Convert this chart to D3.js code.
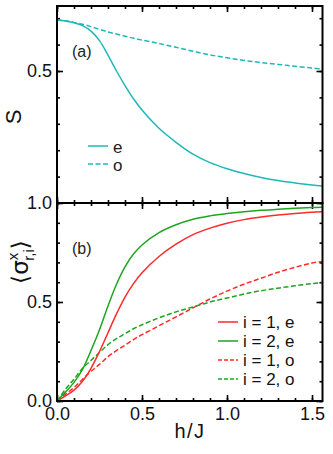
<!DOCTYPE html>
<html>
<head>
<meta charset="utf-8">
<script src="https://cdn.jsdelivr.net/npm/d3@7/dist/d3.min.js"></script>
<style>
  body{margin:0;background:#fff;}
  svg{display:block;}
</style>
</head>
<body>
<svg id="chart" width="333" height="454"></svg>
<script>
"use strict";
//----------------------------------------
//Data
var hValues = [0, 0.05, 0.1, 0.15, 0.2, 0.25, 0.3, 0.35, 0.4, 0.45, 0.5, 0.6, 0.7, 0.8, 0.9, 1.0, 1.1, 1.2, 1.3, 1.4, 1.5, 1.56];

//panel (a): entropy S
var sEven = [0.693, 0.689, 0.683, 0.672, 0.651, 0.615, 0.56, 0.50, 0.445, 0.395, 0.352, 0.283, 0.23, 0.185, 0.153, 0.13, 0.112, 0.097, 0.085, 0.076, 0.068, 0.064];
var sOdd  = [0.693, 0.69, 0.684, 0.677, 0.668, 0.658, 0.648, 0.64, 0.632, 0.624, 0.617, 0.604, 0.59, 0.575, 0.561, 0.55, 0.54, 0.532, 0.525, 0.518, 0.511, 0.508];

//panel (b): <sigma^x_{r,i}>
var sigma1Even = [0, 0.026, 0.055, 0.1, 0.165, 0.25, 0.345, 0.44, 0.525, 0.593, 0.648, 0.73, 0.792, 0.84, 0.873, 0.898, 0.916, 0.929, 0.939, 0.947, 0.953, 0.956];
var sigma2Even = [0, 0.045, 0.094, 0.16, 0.255, 0.36, 0.48, 0.59, 0.678, 0.742, 0.788, 0.85, 0.89, 0.918, 0.935, 0.947, 0.956, 0.963, 0.968, 0.973, 0.977, 0.979];
var sigma1Odd  = [0, 0.035, 0.068, 0.11, 0.15, 0.185, 0.224, 0.255, 0.282, 0.31, 0.335, 0.38, 0.425, 0.47, 0.515, 0.555, 0.59, 0.62, 0.65, 0.675, 0.697, 0.705];
var sigma2Odd  = [0, 0.06, 0.11, 0.165, 0.205, 0.245, 0.285, 0.315, 0.34, 0.365, 0.385, 0.42, 0.45, 0.475, 0.5, 0.52, 0.54, 0.557, 0.57, 0.582, 0.593, 0.598];

//Ticks
var xMajor = [0, 0.5, 1.0, 1.5];
var xMinor = d3.range(0, 1.56, 0.1);
var yaMajor = [0.5];
var yaMinor = d3.range(0.1, 0.75, 0.1);
var ybMajor = [0, 0.5, 1.0];
var ybMinor = d3.range(0, 1.01, 0.1);

var legendA = ["e", "o"];
var legendB = ["i = 1, e", "i = 2, e", "i = 1, o", "i = 2, o"];

//----------------------------------------
var colours = {teal: "#1fb8b8", red: "#ff2a2a", green: "#1ea51e"};
var font = "'Liberation Sans', Arial, sans-serif";

var svg = d3.select("#chart");

var left = 57, right = 322.5, topA = 6, mid = 203, bottom = 401;

var x = d3.scaleLinear().domain([0, 1.5]).range([left, left + 255]);
var yA = d3.scaleLinear().domain([0, 0.75]).range([mid, mid - 264 * 0.75]);
var yB = d3.scaleLinear().domain([0, 1]).range([bottom, mid]);

//Clip the curves to the frame
svg.append("clipPath").attr("id", "clipA")
    .append("rect").attr("x", left).attr("y", topA).attr("width", right - left).attr("height", mid - topA);
svg.append("clipPath").attr("id", "clipB")
    .append("rect").attr("x", left).attr("y", mid).attr("width", right - left).attr("height", bottom - mid);

/**
   draws inward ticks on all four sides of a panel
 */
var drawTicks = function(y, yTop, yBottom, yMaj, yMin, yLabels, xLabels){
    var fmt = d3.format(".1f");
    var put = function(axis, tx, ty){
        var g = svg.append("g")
            .attr("transform", "translate(" + tx + "," + ty + ")")
            .call(axis);
        g.select(".domain").remove();
        g.selectAll("line").attr("stroke", "#000").attr("stroke-width", 1.6);
        g.selectAll("text").attr("font-size", 18).attr("font-family", font).attr("fill", "#111");
        return g;
    };
    //bottom
    put(d3.axisBottom(x).tickValues(xMinor).tickSize(-3).tickFormat(""), 0, yBottom);
    put(d3.axisBottom(x).tickValues(xMajor).tickSize(-6).tickPadding(6)
        .tickFormat(xLabels ? fmt : ""), 0, yBottom);
    //top
    put(d3.axisTop(x).tickValues(xMinor).tickSize(-3).tickFormat(""), 0, yTop);
    put(d3.axisTop(x).tickValues(xMajor).tickSize(-6).tickFormat(""), 0, yTop);
    //left
    put(d3.axisLeft(y).tickValues(yMin).tickSize(-3).tickFormat(""), left, 0);
    put(d3.axisLeft(y).tickValues(yMaj).tickSize(-6).tickPadding(5)
        .tickFormat(function(d){ return yLabels.indexOf(d) >= 0 ? fmt(d) : ""; }), left, 0);
    //right
    put(d3.axisRight(y).tickValues(yMin).tickSize(-3).tickFormat(""), right, 0);
    put(d3.axisRight(y).tickValues(yMaj).tickSize(-6).tickFormat(""), right, 0);
};

drawTicks(yA, topA, mid, yaMajor, yaMinor, [0.5], false);
drawTicks(yB, mid, bottom, ybMajor, ybMinor, [0, 0.5, 1.0], true);

//Curves
var drawCurve = function(values, y, clip, colour, dashed){
    var line = d3.line()
        .x(function(d, i){ return x(hValues[i]); })
        .y(function(d){ return y(d); })
        .curve(d3.curveCatmullRom.alpha(0.5));
    svg.append("path")
        .datum(values)
        .attr("clip-path", "url(#" + clip + ")")
        .attr("d", line)
        .attr("fill", "none")
        .attr("stroke", colour)
        .attr("stroke-width", 1.5)
        .attr("stroke-dasharray", dashed ? "5,2.5" : null);
};

drawCurve(sOdd, yA, "clipA", colours.teal, true);
drawCurve(sEven, yA, "clipA", colours.teal, false);
drawCurve(sigma1Odd, yB, "clipB", colours.red, true);
drawCurve(sigma2Odd, yB, "clipB", colours.green, true);
drawCurve(sigma1Even, yB, "clipB", colours.red, false);
drawCurve(sigma2Even, yB, "clipB", colours.green, false);

//Frames
[[topA, mid], [mid, bottom]].forEach(function(p){
    svg.append("rect")
        .attr("x", left).attr("y", p[0])
        .attr("width", right - left).attr("height", p[1] - p[0])
        .attr("fill", "none").attr("stroke", "#000").attr("stroke-width", 2);
});

//Legends
var legA = svg.append("g").selectAll("g").data(legendA).enter().append("g")
    .attr("transform", function(d, i){ return "translate(88," + (146 + i * 18) + ")"; });
legA.append("line").attr("x1", 0).attr("x2", 20)
    .attr("stroke", colours.teal).attr("stroke-width", 1.5)
    .attr("stroke-dasharray", function(d, i){ return i ? "5,2.5" : null; });
legA.append("text").attr("x", 25).attr("y", 7)
    .attr("font-family", font).attr("font-size", 17).attr("fill", "#222")
    .text(function(d){ return d; });

var legColours = [colours.red, colours.green, colours.red, colours.green];
var legB = svg.append("g").selectAll("g").data(legendB).enter().append("g")
    .attr("transform", function(d, i){ return "translate(218," + (322 + i * 19) + ")"; });
legB.append("line").attr("x1", 0).attr("x2", 20)
    .attr("stroke", function(d, i){ return legColours[i]; }).attr("stroke-width", 1.5)
    .attr("stroke-dasharray", function(d, i){ return i > 1 ? "4,2" : null; });
legB.append("text").attr("x", 25).attr("y", 5.5)
    .attr("font-family", font).attr("font-size", 17).attr("fill", "#111")
    .text(function(d){ return d; });

//Panel labels
svg.append("text").attr("x", 72).attr("y", 56.5)
    .attr("font-family", font).attr("font-size", 16).attr("fill", "#222").text("(a)");
svg.append("text").attr("x", 72).attr("y", 253.5)
    .attr("font-family", font).attr("font-size", 16).attr("fill", "#222").text("(b)");

//Axis titles
svg.append("text")
    .attr("transform", "translate(21,117) rotate(-90)")
    .attr("text-anchor", "middle")
    .attr("font-family", font).attr("font-size", 22).attr("fill", "#111")
    .text("S");

svg.append("text")
    .attr("x", 190).attr("y", 438)
    .attr("text-anchor", "middle")
    .attr("font-family", font).attr("font-size", 20).attr("fill", "#111")
    .attr("letter-spacing", 1.5)
    .text("h/J");

var yLab = svg.append("text")
    .attr("transform", "translate(28,262) rotate(-90)")
    .attr("text-anchor", "middle")
    .attr("font-family", font).attr("font-size", 23).attr("fill", "#111");
yLab.append("tspan").attr("font-family", "'DejaVu Sans', sans-serif").attr("font-weight", 200).text("\u27E8");
yLab.append("tspan").attr("font-family", "'DejaVu Sans', sans-serif").text("\u03C3");
yLab.append("tspan").attr("font-size", 15).attr("dy", -10).text("x");
yLab.append("tspan").attr("font-size", 15).attr("dx", -8).attr("dy", 16).text("r,i");
yLab.append("tspan").attr("font-family", "'DejaVu Sans', sans-serif").attr("dy", -6).text("\u27E9");
</script>
</body>
</html>
